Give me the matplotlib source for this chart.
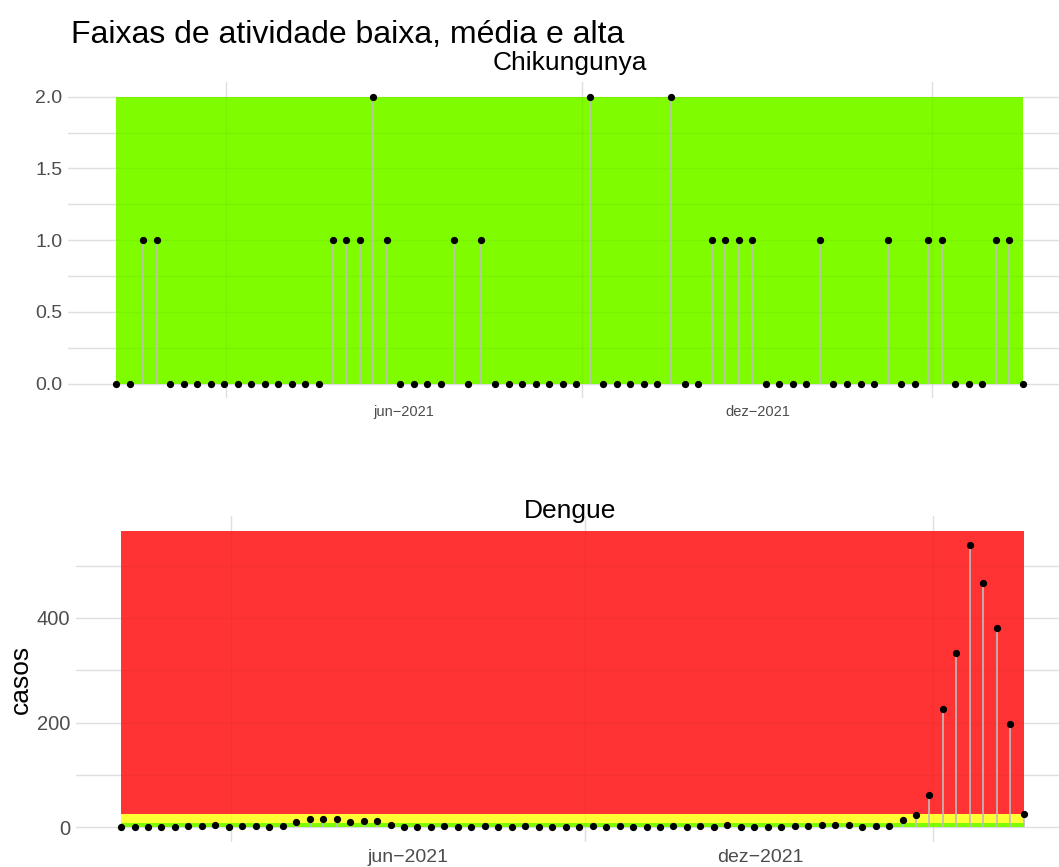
import matplotlib
matplotlib.use('Agg')
import matplotlib.pyplot as plt
import matplotlib.dates as mdates
import numpy as np
import pandas as pd

plt.rcParams['font.family'] = ['Liberation Sans', 'DejaVu Sans']

# ---- data ----
start_date = '2021-01-03'
n_weeks = 68
chik_cases = [0, 0, 1, 1, 0, 0, 0, 0, 0, 0, 0, 0, 0, 0, 0, 0,
              1, 1, 1, 2, 1, 0, 0, 0, 0, 1, 0, 1, 0, 0, 0, 0,
              0, 0, 0, 2, 0, 0, 0, 0, 0, 2, 0, 0, 1, 1, 1, 1,
              0, 0, 0, 0, 1, 0, 0, 0, 0, 1, 0, 0, 1, 1, 0, 0,
              0, 1, 1, 0]
dengue_cases = [0, 1, 1, 1, 0, 2, 2, 4, 0, 2, 2, 1, 3, 9, 16, 16,
                15, 9, 12, 12, 4, 1, 1, 1, 3, 1, 0, 2, 1, 1, 2, 0,
                1, 0, 0, 2, 0, 2, 1, 0, 0, 3, 0, 2, 1, 4, 0, 1,
                1, 0, 3, 3, 5, 4, 5, 1, 3, 3, 13, 24, 61, 225, 332,
                539, 466, 380, 197, 26]
# activity bands: (lower, upper, colour)
chik_bands = [(0, 2, '#7FFC00')]
dengue_bands = [(0, 7.5, '#7FFC00'), (7.5, 25.5, '#FFFF33'), (25.5, 566, '#FF3333')]
title = 'Faixas de atividade baixa, média e alta'
panel_titles = ['Chikungunya', 'Dengue']
ylabel = 'casos'
xtick_dates = ['2021-06-01', '2021-12-01']
xtick_labels = ['jun\u22122021', 'dez\u22122021']
xgrid_dates = ['2021-03-01', '2021-09-01', '2022-03-01']

dates = pd.date_range(start_date, periods=n_weeks, freq='7D')

W, H = 1059, 867
fig = plt.figure(figsize=(W / 100, H / 100), dpi=100)


def add_ax(left, right, top, bottom):
    return fig.add_axes([left / W, (H - bottom) / H, (right - left) / W, (bottom - top) / H])


def draw_panel(ax, values, bands, ylim, xpad, yticks, yminor, yfmt, xfs, yfs, ttl, ttl_y):
    x = mdates.date2num(dates)
    for lo, hi, col in bands:
        ax.fill_between([x[0], x[-1]], lo, hi, color=col, lw=0, zorder=1)
    v = np.array(values, dtype=float)
    ax.vlines(x, 0, v, color='#BEBEBE', lw=1.2, zorder=2.7)
    ax.plot(x, v, 'o', color='black', ms=4.2, zorder=3)
    ax.set_xlim(x[0] - xpad[0], x[-1] + xpad[1])
    ax.set_ylim(*ylim)
    ax.set_yticks(yticks)
    ax.set_yticklabels([yfmt.format(t) for t in yticks])
    ax.set_yticks(yminor, minor=True)
    xt = mdates.date2num(pd.to_datetime(xtick_dates))
    xg = mdates.date2num(pd.to_datetime(xgrid_dates))
    ax.set_xticks(xt)
    ax.set_xticklabels(xtick_labels)
    ax.set_xticks(xg, minor=True)
    ax.grid(False)
    ax.grid(True, which='minor', axis='x', color='#E8E8E8', lw=1.0)
    ax.grid(True, which='both', axis='y', color='#E8E8E8', lw=1.0)
    ax.set_axisbelow(True)
    # faint grid showing through the bands
    for g in xg:
        ax.axvline(g, color='black', alpha=0.035, lw=1.0, zorder=1.5)
    for g in list(yticks) + list(yminor):
        ax.axhline(g, color='black', alpha=0.035, lw=1.0, zorder=1.5)
    for s in ax.spines.values():
        s.set_visible(False)
    ax.tick_params(which='both', length=0)
    ax.tick_params(axis='x', labelsize=xfs, labelcolor='#4D4D4D', pad=5)
    ax.tick_params(axis='y', labelsize=yfs, labelcolor='#4D4D4D', pad=4)
    fig.text(570 / W, (H - ttl_y) / H, ttl, ha='center', va='baseline', fontsize=19, color='black')


ax1 = add_ax(68, 1059, 82.3, 398)
draw_panel(ax1, chik_cases, chik_bands, (-0.1, 2.1), (24.8, 18.6),
           [0, 0.5, 1.0, 1.5, 2.0], [0.25, 0.75, 1.25, 1.75], '{:.1f}', 10.5, 14,
           panel_titles[0], 70)

ax2 = add_ax(76, 1059, 516, 842)
draw_panel(ax2, dengue_cases, dengue_bands, (-28.3, 594.6), (23.4, 18.3),
           [0, 200, 400], [100, 300, 500], '{:.0f}', 14, 14.5,
           panel_titles[1], 518)
ax2.set_ylabel(ylabel, fontsize=19, labelpad=3)

fig.text(71 / W, (H - 43) / H, title, ha='left', va='baseline', fontsize=23)

fig.savefig('out.png', dpi=100)
